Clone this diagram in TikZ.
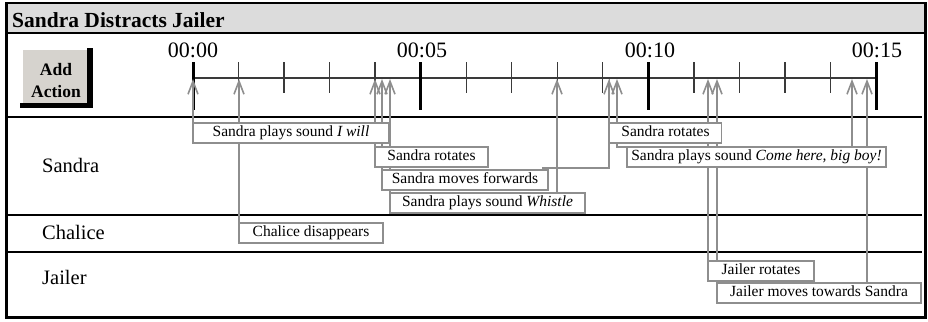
\documentclass[tikz,border=0pt]{standalone}
\usepackage{fontspec}
\setmainfont{Liberation Serif}
\usetikzlibrary{arrows.meta}
\definecolor{lgray}{HTML}{8E8E8E}
\definecolor{titlebg}{HTML}{DCDCDC}
\definecolor{btnface}{HTML}{D6D3CE}
\definecolor{tline}{HTML}{3A3A3A}
\begin{document}
\begin{tikzpicture}[x=1pt,y=-1pt,
  evbox/.style={draw=lgray, line width=1.6pt, fill=white, inner sep=0pt, outer sep=0pt,
    anchor=north west, minimum height=20pt, text height=10.5pt, text depth=3pt,
    font=\fontsize{15.5}{18}\selectfont},
  link/.style={draw=lgray, line width=1.6pt},
  tip/.style={-{Straight Barb[length=13pt,width=10pt]}},
  rowlabel/.style={anchor=base west, inner sep=0pt, font=\fontsize{20.5}{24}\selectfont},
  timelabel/.style={anchor=base, inner sep=0pt, font=\fontsize{22}{26}\selectfont},
  minortick/.style={draw=tline, line width=1.3pt},
  majortick/.style={draw=black, line width=3pt},
  rowline/.style={draw=black, line width=2pt}
]
\useasboundingbox (0,0) rectangle (928,321);
% frame and title bar
\fill[titlebg] (6,3) rectangle (925,33);
\draw[line width=1.3pt] (6,33) -- (925,33);
\draw[line width=1.5pt] (5,3) -- (926,3);
\draw[line width=3pt] (6.5,2.5) -- (6.5,318.5);
\draw[line width=3pt] (925.5,2.5) -- (925.5,318.5);
\draw[line width=3pt] (5,317) -- (927,317);
\node[anchor=base west, inner sep=0pt, font=\bfseries\fontsize{21.5}{24}\selectfont] (title) at (12,28) {Sandra Distracts Jailer};
% row separators
\draw[rowline] (8,116.5) -- (922,116.5);
\draw[rowline] (8,215) -- (922,215);
\draw[rowline] (8,251.5) -- (922,251.5);
% Add Action button
\fill[black] (87,48) rectangle (93,108);
\fill[black] (20,103) rectangle (93,108);
\node[fill=btnface, inner sep=0pt, outer sep=0pt, anchor=north west, minimum width=64pt, minimum height=53pt] (btn) at (23,50) {};
\node[anchor=base, inner sep=0pt, font=\bfseries\fontsize{17.5}{20}\selectfont] (btnA) at (56,75) {Add};
\node[anchor=base, inner sep=0pt, font=\bfseries\fontsize{17.5}{20}\selectfont] (btnB) at (56,97) {Action};
% row labels
\node[rowlabel] (lsandra) at (42,172) {Sandra};
\node[rowlabel] (lchalice) at (42,239) {Chalice};
\node[rowlabel] (ljailer) at (42,284) {Jailer};
% timeline
\draw[draw=tline, line width=1.3pt] (193,78) -- (876,78);
\foreach \k in {1,2,3,4,6,7,8,9,11,12,13,14}{
  \draw[minortick] (193+45.5333*\k,62) -- (193+45.5333*\k,93);
}
\foreach \k in {0,5,10,15}{
  \draw[majortick] (193+45.5333*\k,62) -- (193+45.5333*\k,110);
}
\node[timelabel] (l00) at (193,57) {00:00};
\node[timelabel] (l05) at (422,57) {00:05};
\node[timelabel] (l10) at (650,57) {00:10};
\node[timelabel] (l15) at (877,57) {00:15};
\coordinate (tl) at (0,79);
\coordinate (t543) at (543,79);
\coordinate (t557) at (557,79);
\coordinate (t609) at (609,79);
\coordinate (t617) at (617,79);
\coordinate (t852) at (852,79);
\coordinate (t867) at (867,79);
\coordinate (y168) at (0,168);
% event boxes (anchors only; drawn later on top)
\path
  node[evbox, minimum width=196pt, draw=none, fill=none] (iwill) at (193,123) {}
  node[evbox, minimum width=144pt, draw=none, fill=none] (chal) at (239,223) {}
  node[evbox, minimum width=113pt, draw=none, fill=none] (rot1) at (375,147) {}
  node[evbox, minimum width=166pt, draw=none, fill=none] (moves) at (382,170) {}
  node[evbox, minimum width=195pt, draw=none, fill=none] (whistle) at (390,193) {}
  node[evbox, minimum width=112pt, draw=none, fill=none] (rot2) at (609.5,123) {}
  node[evbox, minimum width=259pt, draw=none, fill=none] (come) at (627,147) {}
  node[evbox, minimum width=106pt, draw=none, fill=none] (jrot) at (708,261) {}
  node[evbox, minimum width=204pt, draw=none, fill=none] (jmove) at (717,283) {};
% connectors
\draw[link,tip] (iwill.north west) -- (iwill.north west |- tl);
\draw[link,tip] (chal.north west) -- (chal.north west |- tl);
\draw[link,tip] (rot1.north west) -- (rot1.north west |- tl);
\draw[link,tip] (moves.north west) -- (moves.north west |- tl);
\draw[link,tip] (whistle.north west) -- (whistle.north west |- tl);
\draw[link,tip] (whistle.north -| t557) -- (t557);
\draw[link,tip] (moves.north -| t543) -- (t543 |- y168) -- (t609 |- y168) -- (t609);
\draw[link] (rot2.north west) -- (rot2.north west |- tl);
\draw[link,tip] (come.north west) -- (come.north west -| t617) -- (t617);
\draw[link,tip] (jrot.north west) -- (jrot.north west |- tl);
\draw[link,tip] (jmove.north west) -- (jmove.north west |- tl);
\draw[link,tip] (come.north -| t852) -- (t852);
\draw[link,tip] (jmove.north -| t867) -- (t867);
% boxes on top
\node[evbox, minimum width=196pt] at (193,123) {Sandra plays sound \textit{I will}};
\node[evbox, minimum width=144pt] at (239,223) {Chalice disappears};
\node[evbox, minimum width=113pt] at (375,147) {Sandra rotates};
\node[evbox, minimum width=166pt] at (382,170) {Sandra moves forwards};
\node[evbox, minimum width=195pt] at (390,193) {Sandra plays sound \textit{Whistle}};
\node[evbox, minimum width=112pt] at (609.5,123) {Sandra rotates};
\node[evbox, minimum width=259pt] at (627,147) {Sandra plays sound \textit{Come here, big boy!}};
\node[evbox, minimum width=106pt] at (708,261) {Jailer rotates};
\node[evbox, minimum width=204pt] at (717,283) {Jailer moves towards Sandra};
\end{tikzpicture}
\end{document}
